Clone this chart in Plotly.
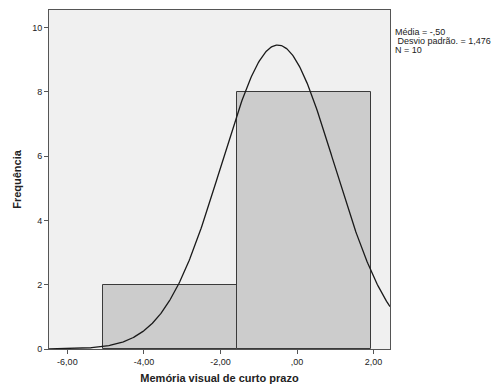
import numpy as np
import plotly.graph_objects as go

bin_edges = [-5.06, -1.56, 1.94]
counts = [2, 8]
mean_val = -0.50
sd_val = 1.476
n_val = 10
x_ticks = [-6, -4, -2, 0, 2]
x_tick_labels = ["-6,00", "-4,00", "-2,00", ",00", "2,00"]
y_ticks = [0, 2, 4, 6, 8, 10]
stat_lines = ["Média = -,50", "\u00a0Desvio padrão. = 1,476", "N = 10"]

centers = [(bin_edges[i] + bin_edges[i + 1]) / 2 for i in range(len(counts))]
widths = [bin_edges[i + 1] - bin_edges[i] for i in range(len(counts))]
bw = widths[0]

xr = [-6.48, 2.43]
xs = np.linspace(xr[0], xr[1], 400)
ys = n_val * bw / (sd_val * np.sqrt(2 * np.pi)) * np.exp(-0.5 * ((xs - mean_val) / sd_val) ** 2)

fig = go.Figure()
fig.add_trace(go.Bar(x=centers, y=counts, width=widths,
                     marker=dict(color="#CCCCCC", line=dict(color="#3a3a3a", width=1)),
                     hoverinfo="skip"))
fig.add_trace(go.Scatter(x=xs, y=ys, mode="lines",
                         line=dict(color="#1a1a1a", width=1.3), hoverinfo="skip"))

ann_y = [0.935, 0.9086, 0.882]
annotations = [dict(x=1.010, y=yy, xref="paper", yref="paper", xanchor="left",
                    yanchor="middle", align="left", showarrow=False, text=t,
                    font=dict(size=9, color="#222"))
               for t, yy in zip(stat_lines, ann_y)]

fig.update_layout(
    width=492, height=385,
    margin=dict(l=49, r=102, t=10, b=36, autoexpand=False),
    paper_bgcolor="white", plot_bgcolor="#F0F0F0",
    showlegend=False,
    font=dict(family="Liberation Sans, Arial, sans-serif", size=9, color="#222"),
    bargap=0,
    annotations=annotations,
)
fig.update_xaxes(range=xr, tickvals=x_ticks, ticktext=x_tick_labels,
                 ticks="outside", ticklen=4, tickcolor="#555", automargin=False,
                 showgrid=False, zeroline=False, showline=True, linecolor="#555",
                 linewidth=1, mirror=True,
                 title=dict(text="<b>Memória visual de curto prazo</b>",
                            font=dict(size=11, color="#222"), standoff=8))
fig.update_yaxes(range=[0, 10.55], tickvals=y_ticks,
                 ticks="outside", ticklen=4, tickcolor="#555", automargin=False,
                 showgrid=False, zeroline=False, showline=True, linecolor="#555",
                 linewidth=1, mirror=True,
                 title=dict(text="<b>Frequência</b>",
                            font=dict(size=11, color="#222"), standoff=8))

fig.write_html("out.html", config={"displayModeBar": False},
               post_script="document.body.style.margin='0';document.body.style.overflow='hidden';")
